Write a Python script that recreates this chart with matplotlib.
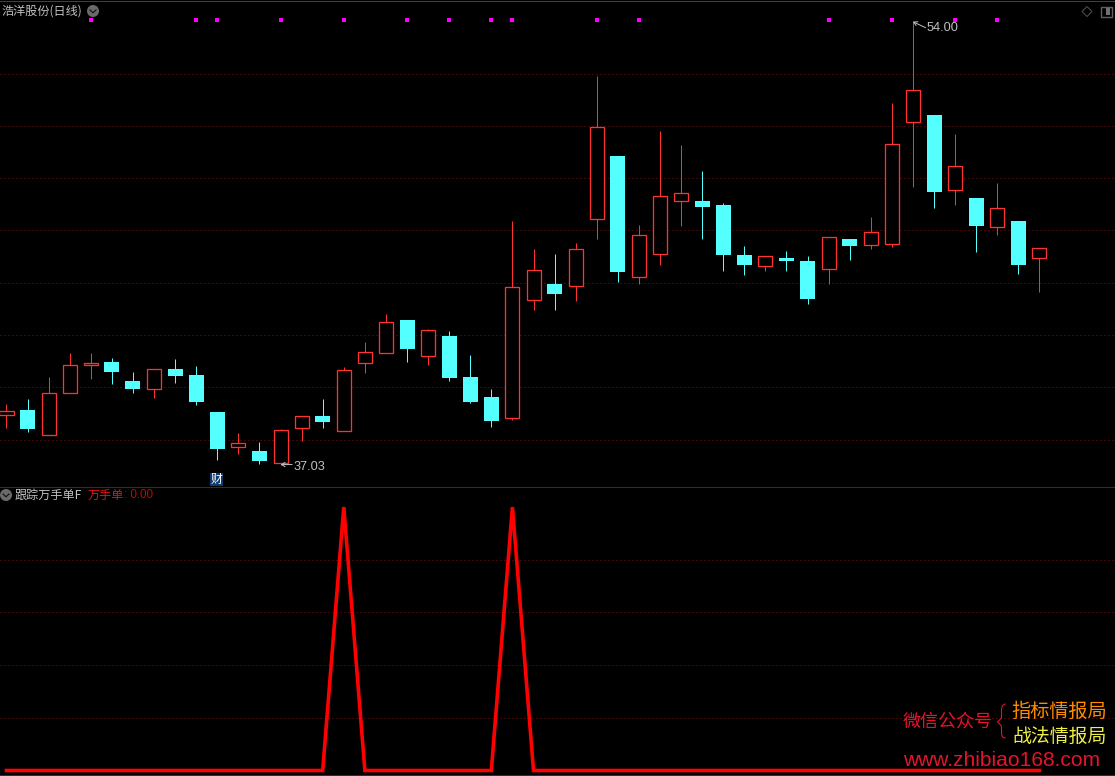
#K-line chart with indicator panel below

import matplotlib
matplotlib.use('Agg')
import numpy as np
from matplotlib import pyplot as plt
from matplotlib.patches import Circle, Rectangle, Polygon

plt.rcParams['font.family'] = ['Noto Sans CJK SC', 'DejaVu Sans']

open_p = [38.96, 39.14, 38.19, 39.80, 40.84, 40.97, 40.24, 39.95, 40.70, 40.47,
          39.06, 37.73, 37.57, 37.12, 38.46, 38.91, 38.34, 40.94, 41.33, 42.58,
          41.21, 41.96, 40.40, 39.63, 38.84, 43.35, 43.95, 43.89, 46.45, 48.85,
          44.23, 45.11, 47.14, 47.13, 46.97, 45.06, 44.65, 44.95, 44.83, 44.54,
          45.67, 45.46, 45.49, 50.16, 50.41, 47.56, 47.24, 46.14, 46.36, 44.96]
close_p = [39.08, 38.41, 39.77, 40.84, 40.92, 40.59, 39.94, 40.69, 40.44, 39.44,
           37.64, 37.86, 37.19, 38.36, 38.89, 38.68, 40.65, 41.34, 42.49, 41.47,
           42.18, 40.36, 39.44, 38.72, 43.83, 44.48, 43.57, 45.28, 49.94, 44.41,
           45.81, 47.31, 47.42, 46.90, 45.06, 44.68, 45.01, 44.83, 43.38, 45.74,
           45.41, 45.93, 49.29, 51.36, 47.47, 48.45, 46.17, 46.85, 44.68, 45.32]
high_p = [39.37, 39.56, 40.40, 41.30, 41.30, 41.12, 40.59, 40.69, 41.09, 40.82,
          39.06, 38.26, 37.91, 38.41, 38.89, 39.56, 40.77, 41.72, 42.79, 42.58,
          42.22, 42.16, 41.24, 39.94, 46.36, 45.29, 45.10, 45.52, 51.90, 48.85,
          46.21, 49.80, 49.27, 48.27, 47.05, 45.41, 45.01, 45.21, 45.02, 45.74,
          45.67, 46.51, 50.87, 54.00, 50.41, 49.69, 47.24, 47.81, 46.36, 45.32]
low_p = [38.46, 38.31, 38.19, 39.80, 40.32, 40.13, 39.79, 39.59, 40.17, 39.33,
         37.22, 37.45, 37.07, 37.03, 37.95, 38.45, 38.34, 40.55, 41.33, 40.97,
         40.86, 40.24, 39.40, 38.49, 38.75, 42.96, 42.96, 43.30, 45.67, 44.03,
         43.95, 44.68, 46.17, 45.67, 44.45, 44.30, 44.45, 44.45, 43.19, 43.95,
         44.87, 45.29, 45.37, 47.66, 46.86, 46.97, 45.18, 45.83, 44.34, 43.65]

signal_days = [4, 9, 10, 13, 16, 19, 21, 23, 24, 28, 30, 39, 42, 45, 47]
signal_level = 54.03
price_grid = [38, 40, 42, 44, 46, 48, 50, 52]

wanshou = [0, 0, 0, 0, 0, 0, 0, 0, 0, 0,
           0, 0, 0, 0, 0, 0, 1, 0, 0, 0,
           0, 0, 0, 0, 1, 0, 0, 0, 0, 0,
           0, 0, 0, 0, 0, 0, 0, 0, 0, 0,
           0, 0, 0, 0, 0, 0, 0, 0, 0, 0]
wanshou_grid = [0.2, 0.4, 0.6, 0.8]

W, H = 1115, 776
RED = '#ff3232'
CYAN = '#54ffff'
GRID = '#8a0c0c'
GREY = '#c0c0c0'
px = 0.72

fig = plt.figure(figsize=(W/100, H/100), dpi=100, facecolor='black')
ax = fig.add_axes([0, 1-487/H, 1, 487/H], facecolor='black')
ax2 = fig.add_axes([0, 1/H, 1, 1-488.0/H], facecolor='black')

days = np.arange(len(open_p))
xlim = (-6.5/21.08, (W-6.5)/21.08)

# main candles
o = np.array(open_p)
c = np.array(close_p)
hi = np.array(high_p)
lo = np.array(low_p)
up = c >= o
wick_up = ax.vlines(days[up], lo[up], hi[up], color=RED, lw=px, zorder=2)
wick_dn = ax.vlines(days[~up], lo[~up], hi[~up], color=CYAN, lw=px, zorder=2)
wick_up.set_snap(True)
wick_dn.set_snap(True)
ax.bar(days[up], (c-o)[up], bottom=o[up], width=14/21.08, facecolor='black',
       edgecolor=RED, linewidth=1.3*px, zorder=3)
ax.bar(days[~up], (c-o)[~up], bottom=o[~up], width=15/21.08, facecolor=CYAN,
       edgecolor='none', zorder=3)
ax.scatter(signal_days, [signal_level]*len(signal_days), marker='s', s=5,
           color='#ff00ff', linewidths=0, zorder=4)

ax.set_xlim(xlim)
ax.set_ylim(54.81-0.03823*487, 54.81)
ax.set_yticks(price_grid)
ax.set_xticks([])
ax.grid(axis='y', color=GRID, lw=px, linestyle=(0, (1, 3)), zorder=0)
ax.tick_params(length=0, labelleft=False)
ax.set_axisbelow(True)
for s in ax.spines.values():
    s.set_visible(False)

# low and high labels
ax.text(13.6, 36.96, '37.03', color=GREY, fontsize=9.2, family='Liberation Sans',
        ha='left', va='center')
ax.annotate('', xy=(13.0, 37.05), xytext=(13.55, 37.05),
            arrowprops=dict(arrowstyle='->,head_length=0.25,head_width=0.15', color=GREY,
                            lw=px, shrinkA=0, shrinkB=0))
ax.text(43.63, 53.74, '54.00', color=GREY, fontsize=9.2, family='Liberation Sans',
        ha='left', va='center')
ax.annotate('', xy=(43.0, 53.98), xytext=(43.6, 53.75),
            arrowprops=dict(arrowstyle='->,head_length=0.25,head_width=0.15', color=GREY,
                            lw=px, shrinkA=0, shrinkB=0))

# indicator panel
ax2.plot(days, wanshou, color='#ff0000', lw=3.6*px, solid_joinstyle='miter', zorder=3)
ax2.set_xlim(xlim)
ax2.set_ylim(-4.5/262.5, 282.5/262.5)
ax2.set_yticks(wanshou_grid)
ax2.set_xticks([])
ax2.grid(axis='y', color=GRID, lw=px, linestyle=(0, (1, 3)), zorder=0)
ax2.tick_params(length=0, labelleft=False)
ax2.set_axisbelow(True)
for s in ax2.spines.values():
    s.set_visible(False)

# overlay in picture pixels for the header text and icons
top = fig.add_axes([0, 0, 1, 1], facecolor='none')
top.set_xlim(0, W)
top.set_ylim(H, 0)
top.axis('off')

top.plot([0, W], [1.3, 1.3], color='#404040', lw=px)
top.plot([0, W], [487.3, 487.3], color='#a00000', lw=px)
top.plot([0, W], [775.2, 775.2], color='#a00000', lw=px)


def chevron(x, y):
    top.add_patch(Circle((x, y), 6, facecolor='#6a6a6a', edgecolor='none'))
    top.plot([x-3, x, x+3], [y-1, y+1.8, y-1], color='#151515', lw=1.2*px)


chevron(93, 11)
chevron(6, 495)
top.text(1, 11, '浩洋股份(日线)', color=GREY, fontsize=8.7, ha='left', va='center')
top.text(15, 495.5, '跟踪万手单F', color=GREY, fontsize=8.7, ha='left', va='center')
top.text(88, 495.5, '万手单', color='#ee1010', fontsize=8.7, ha='left', va='center')
top.text(124, 495.5, ': 0.00', color='#d00000', fontsize=8.4, family='Liberation Sans',
         ha='left', va='center')

# finance tag
top.add_patch(Rectangle((210, 473), 13, 13, facecolor='#103a6e', edgecolor='none'))
top.text(216.5, 479.5, '财', color='white', fontsize=8.6, ha='center', va='center')

# icons top right
top.add_patch(Polygon([(1087, 6.5), (1092, 11.5), (1087, 16.5), (1082, 11.5)],
                      closed=True, facecolor='none', edgecolor='#505050', lw=px))
top.add_patch(Rectangle((1100.5, 6.5), 11, 10, facecolor='none', edgecolor='#606060', lw=1.4*px))
top.add_patch(Rectangle((1106, 8), 4, 7, facecolor='#707070', edgecolor='none'))

# watermark
top.text(903, 722, '微信公众号', color='#e5142c', fontsize=13.0, ha='left', va='center')
brace_x = [1005, 1002.5, 1001.5, 1001.5, 997.5, 1001.5, 1001.5, 1002.5, 1005]
brace_y = [704, 705.5, 709, 718, 722, 726, 734, 737, 738]
top.plot(brace_x, brace_y, color='#e5142c', lw=1.1*px)
top.text(1011, 711, '指标情报局', color='#ff8c00', fontsize=13.8, ha='left', va='center')
top.text(1012, 736, '战法情报局', color='#eeee44', fontsize=13.6, ha='left', va='center')
top.text(903, 760, 'www.zhibiao168.com', color='#e5142c', fontsize=15.1,
         family='Liberation Sans', ha='left', va='center')

fig.savefig('out.png', dpi=100, facecolor='black')
